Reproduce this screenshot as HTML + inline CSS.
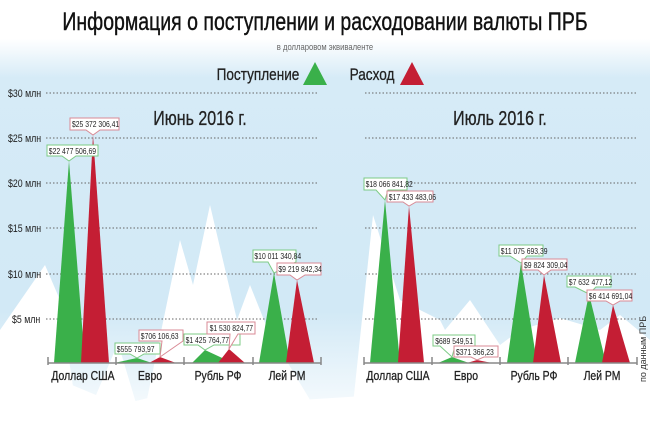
<!DOCTYPE html>
<html><head><meta charset="utf-8"><style>
html,body{margin:0;padding:0;width:650px;height:433px;overflow:hidden;background:#fff}
svg{display:block}
text{font-family:"Liberation Sans",sans-serif}
</style></head><body>
<svg width="650" height="433" viewBox="0 0 650 433" xmlns="http://www.w3.org/2000/svg">
<defs>
<linearGradient id="bg" x1="0" y1="0" x2="0" y2="1">
<stop offset="0" stop-color="#ffffff"/>
<stop offset="0.09" stop-color="#ffffff"/>
<stop offset="0.18" stop-color="#d6ebf7"/>
<stop offset="0.72" stop-color="#d2e9f6"/>
<stop offset="1" stop-color="#ffffff"/>
</linearGradient>
</defs>
<rect width="650" height="433" fill="url(#bg)"/>
<g fill="#ffffff">
<polygon points="0,330 45,265 60,300 80,433 0,433"/>
<polygon points="80,433 118,343 145,433"/>
<polygon points="140,433 180,240 193,285 210,205 237,320 250,285 268,330 330,433"/>
<polygon points="350,433 373,215 400,300 440,320 445,330 470,300 500,345 520,330 560,318 600,330 620,315 650,340 650,433"/>
<polygon points="0,433 0,400 60,380 120,405 200,385 300,400 380,395 460,405 560,390 650,400 650,433"/>
</g>
<text x="325" y="30" text-anchor="middle" font-size="25" fill="#111" stroke="#111" stroke-width="0.4" transform="translate(325 0) scale(0.78 1) translate(-325 0)">Информация о поступлении и расходовании валюты ПРБ</text>
<text x="325" y="50" text-anchor="middle" font-size="9" fill="#666" transform="translate(325 0) scale(0.85 1) translate(-325 0)">в долларовом эквиваленте</text>
<text x="258" y="80" text-anchor="middle" font-size="17" fill="#222" stroke="#222" stroke-width="0.3" transform="translate(258 0) scale(0.8 1) translate(-258 0)">Поступление</text>
<polygon points="303,85 315,62 327,85" fill="#3ab04a"/>
<text x="372" y="80" text-anchor="middle" font-size="17" fill="#222" stroke="#222" stroke-width="0.3" transform="translate(372 0) scale(0.8 1) translate(-372 0)">Расход</text>
<polygon points="400,85 412,62 424,85" fill="#c41e34"/>
<g stroke="#666" stroke-width="1" stroke-dasharray="1.5,2">
<line x1="46" y1="93" x2="318" y2="93"/><line x1="365" y1="93" x2="638" y2="93"/>
<line x1="46" y1="138" x2="318" y2="138"/><line x1="365" y1="138" x2="638" y2="138"/>
<line x1="46" y1="183" x2="318" y2="183"/><line x1="365" y1="183" x2="638" y2="183"/>
<line x1="46" y1="228" x2="318" y2="228"/><line x1="365" y1="228" x2="638" y2="228"/>
<line x1="46" y1="274" x2="318" y2="274"/><line x1="365" y1="274" x2="638" y2="274"/>
<line x1="46" y1="319" x2="318" y2="319"/><line x1="365" y1="319" x2="638" y2="319"/>
</g>
<g font-size="11" fill="#222">
<text x="8" y="97" transform="translate(8 0) scale(0.8 1) translate(-8 0)">$30 млн</text>
<text x="8" y="142" transform="translate(8 0) scale(0.8 1) translate(-8 0)">$25 млн</text>
<text x="8" y="187" transform="translate(8 0) scale(0.8 1) translate(-8 0)">$20 млн</text>
<text x="8" y="232" transform="translate(8 0) scale(0.8 1) translate(-8 0)">$15 млн</text>
<text x="8" y="278" transform="translate(8 0) scale(0.8 1) translate(-8 0)">$10 млн</text>
<text x="12" y="323" transform="translate(12 0) scale(0.8 1) translate(-12 0)">$5 млн</text>
</g>
<text x="200" y="125" text-anchor="middle" font-size="20" fill="#222" stroke="#222" stroke-width="0.3" transform="translate(200 0) scale(0.8 1) translate(-200 0)">Июнь 2016 г.</text>
<text x="500" y="125" text-anchor="middle" font-size="20" fill="#222" stroke="#222" stroke-width="0.3" transform="translate(500 0) scale(0.8 1) translate(-500 0)">Июль 2016 г.</text>
<polygon points="54,363 69,161 85,363" fill="#3ab04a"/>
<polygon points="81,363 93,135 109,363" fill="#c41e34"/>
<polygon points="114,363 137,358 152,363" fill="#3ab04a"/>
<polygon points="149,363 160,357 176,363" fill="#c41e34"/>
<polygon points="192,363 205,350 233,363" fill="#3ab04a"/>
<polygon points="218,363 229,349 245,363" fill="#c41e34"/>
<polygon points="259,363 274,273 290,363" fill="#3ab04a"/>
<polygon points="286,363 297,280 314,363" fill="#c41e34"/>
<polygon points="370,363 385,200 400,363" fill="#3ab04a"/>
<polygon points="398,363 409,206 424,363" fill="#c41e34"/>
<polygon points="438,363 452,357 469,363" fill="#3ab04a"/>
<polygon points="467,363 477,360 492,363" fill="#c41e34"/>
<polygon points="507,363 521,263 537,363" fill="#3ab04a"/>
<polygon points="533,363 544,275 561,363" fill="#c41e34"/>
<polygon points="575,363 589,294 606,363" fill="#3ab04a"/>
<polygon points="602,363 613,305 630,363" fill="#c41e34"/>
<g stroke="#888" stroke-width="1.5" fill="none">
<line x1="48" y1="363" x2="321" y2="363"/>
<line x1="364" y1="363" x2="637" y2="363"/>
<path d="M48,357V365M116,357V365M184,357V365M253,357V365M321,357V365"/>
<path d="M364,357V365M432,357V365M500,357V365M568,357V365M637,357V365"/>
</g>
<g font-size="13" fill="#222" stroke="#222" stroke-width="0.3" text-anchor="middle">
<text x="83" y="380" transform="translate(83 0) scale(0.8 1) translate(-83 0)">Доллар США</text>
<text x="150" y="380" transform="translate(150 0) scale(0.8 1) translate(-150 0)">Евро</text>
<text x="218" y="380" transform="translate(218 0) scale(0.8 1) translate(-218 0)">Рубль РФ</text>
<text x="287" y="380" transform="translate(287 0) scale(0.8 1) translate(-287 0)">Лей РМ</text>
<text x="398" y="380" transform="translate(398 0) scale(0.8 1) translate(-398 0)">Доллар США</text>
<text x="466" y="380" transform="translate(466 0) scale(0.8 1) translate(-466 0)">Евро</text>
<text x="534" y="380" transform="translate(534 0) scale(0.8 1) translate(-534 0)">Рубль РФ</text>
<text x="602" y="380" transform="translate(602 0) scale(0.8 1) translate(-602 0)">Лей РМ</text>
</g>
<text x="646" y="382" font-size="9" fill="#333" transform="rotate(-90 646 382)">по данным ПРБ</text>
<g font-size="8.5" fill="#222">
<g stroke-width="1" fill="#fff">
<path d="M47,145H98V156H76L69,161L62,156H47Z" stroke="#7ccb85"/>
<path d="M70,118H119V130H100L93,135L86,130H70Z" stroke="#d98a95"/>
<path d="M115,343H160V354H144L137,358L130,354H115Z" stroke="#7ccb85"/>
<path d="M139,330H183V341L160,357L162,341H139Z" stroke="#d98a95"/>
<path d="M184,334H240V345H214L205,350L198,345H184Z" stroke="#7ccb85"/>
<path d="M207,322H255V334H238L229,349L230,334H207Z" stroke="#d98a95"/>
<path d="M253,250H296V262L274,273L268,262H253Z" stroke="#7ccb85"/>
<path d="M277,263H321V275H305L297,280L290,275H277Z" stroke="#d98a95"/>
<path d="M364,178H407V190H388L385,200L376,190H364Z" stroke="#7ccb85"/>
<path d="M387,191H433V202H416L409,206L403,202H387Z" stroke="#d98a95"/>
<path d="M433,335H475V346H455L452,357L440,346H433Z" stroke="#7ccb85"/>
<path d="M454,346H498V357H484L477,360L471,357H454Z" stroke="#d98a95"/>
<path d="M499,245H543V256H527L521,263L510,256H499Z" stroke="#7ccb85"/>
<path d="M522,259H567V270H551L544,275L538,270H522Z" stroke="#d98a95"/>
<path d="M567,276H611V287H596L589,294L575,287H567Z" stroke="#7ccb85"/>
<path d="M587,290H632V301H620L613,305L606,301H587Z" stroke="#d98a95"/>
</g>
<g transform="scale(0.8 1)">
<text x="61" y="154">$22 477 506,69</text>
<text x="90" y="127">$25 372 306,41</text>
<text x="146" y="352">$555 793,97</text>
<text x="176" y="339">$706 106,63</text>
<text x="232" y="343">$1 425 764,77</text>
<text x="262" y="331">$1 530 824,77</text>
<text x="318" y="259">$10 011 340,84</text>
<text x="348" y="272">$9 219 842,34</text>
<text x="457" y="187">$18 066 841,82</text>
<text x="486" y="200">$17 433 483,06</text>
<text x="544" y="344">$689 549,51</text>
<text x="570" y="355">$371 366,23</text>
<text x="626" y="254">$11 075 693,39</text>
<text x="655" y="268">$9 824 309,04</text>
<text x="711" y="285">$7 632 477,12</text>
<text x="736" y="299">$6 414 691,04</text>
</g>
</g>
</svg>
</body></html>
